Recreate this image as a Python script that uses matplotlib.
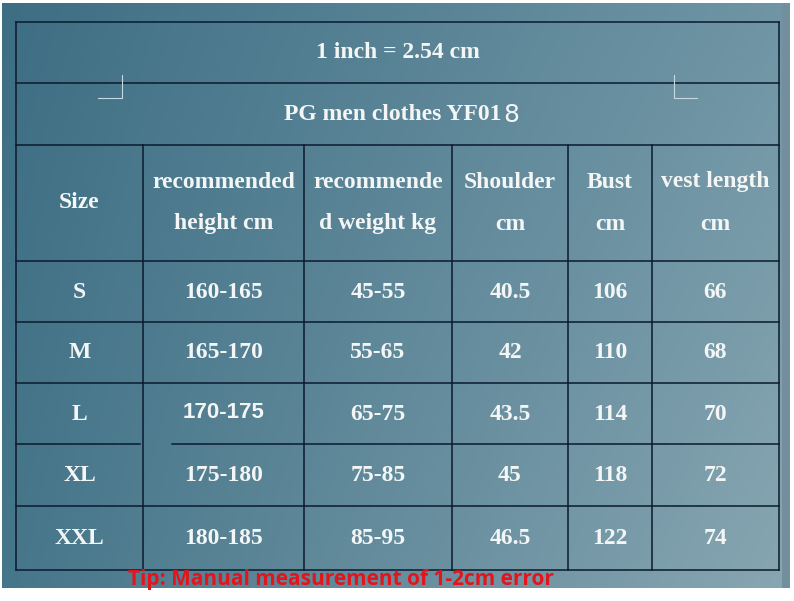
import numpy as np
import matplotlib
matplotlib.use("Agg")
import matplotlib.pyplot as plt

# table content
title1 = "1 inch = 2.54 cm"
title2 = "PG men clothes YF01"
title2_tail = "8"
headers = [["Size"], ["recommended", "height cm"], ["recommende", "d weight kg"],
           ["Shoulder", "cm"], ["Bust", "cm"], ["vest length", "cm"]]
sizes = ["S", "M", "L", "XL", "XXL"]
height_cm = ["160-165", "165-170", "170-175", "175-180", "180-185"]
weight_kg = ["45-55", "55-65", "65-75", "75-85", "85-95"]
shoulder = ["40.5", "42", "43.5", "45", "46.5"]
bust = ["106", "110", "114", "118", "122"]
vest_length = ["66", "68", "70", "72", "74"]
tip = "Tip: Manual measurement of 1-2cm error"

# layout (pixels)
col_edges = [16, 143, 304, 452, 568, 652, 779]
row_edges = [22, 83, 145, 261, 322, 383, 444, 506, 570]

W, H = 794, 601
fig = plt.figure(figsize=(W / 100, H / 100), dpi=100)
ax = fig.add_axes([0, 0, 1, 1])
ax.set_xlim(0, W)
ax.set_ylim(H, 0)
ax.axis("off")

# background gradient
nx, ny = 200, 150
gx = np.linspace(0, 1, nx)[None, :, None]
gy = np.linspace(0, 1, ny)[:, None, None]
tl = np.array([62, 110, 132]) / 255
tr = np.array([112, 150, 165]) / 255
bl = np.array([70, 118, 138]) / 255
br = np.array([136, 166, 178]) / 255
top = tl * (1 - gx) + tr * gx
bot = bl * (1 - gx) + br * gx
bg = top * (1 - gy) + bot * gy
ax.imshow(bg, extent=[2, 790, 588, 3], aspect="auto", zorder=0)
ax.add_patch(plt.Rectangle((782, 3), 8, 585, color=(0.45, 0.56, 0.62), zorder=1, lw=0))

# grid lines
lc = "#0b1a2e"
lw = 1.1
x0, x1 = col_edges[0], col_edges[-1]
for y in row_edges:
    if y == 444:
        ax.plot([x0, 140], [y, y], color=lc, lw=lw, zorder=3)
        ax.plot([172, x1], [y, y], color=lc, lw=lw, zorder=3)
    else:
        ax.plot([x0, x1], [y, y], color=lc, lw=lw, zorder=3)
for i, x in enumerate(col_edges):
    ystart = row_edges[0] if i in (0, len(col_edges) - 1) else row_edges[2]
    ax.plot([x, x], [ystart, row_edges[-1]], color=lc, lw=lw, zorder=3)

# small corner marks
mc = "#c8d8e0"
ax.plot([122, 122, 98], [75, 98, 98], color=mc, lw=0.8, zorder=3)
ax.plot([674, 674, 697], [75, 98, 98], color=mc, lw=0.8, zorder=3)

tc = "#f4f6f6"
serif = dict(family="Liberation Serif", weight="bold", color=tc, fontsize=17,
             ha="center", va="center", zorder=4)

ax.text((x0 + x1) / 2, 53, title1, **serif)
ax.text(502, 114, title2, **{**serif, "ha": "right"})
ax.text(503, 115, title2_tail, family="DejaVu Sans", color=tc, fontsize=18,
        ha="left", va="center", zorder=4)

centers = [(col_edges[i] + col_edges[i + 1]) / 2 for i in range(len(col_edges) - 1)]
for cx, lines in zip(centers, headers):
    if len(lines) == 1:
        ax.text(cx, 203, lines[0], **serif)
    else:
        ax.text(cx, 182, lines[0], **serif)
        ax.text(cx, 224, lines[1], **serif)

columns = [sizes, height_cm, weight_kg, shoulder, bust, vest_length]
row_centers = [(row_edges[i] + row_edges[i + 1]) / 2 + 0.5 for i in range(3, len(row_edges) - 1)]
for ci, (cx, vals) in enumerate(zip(centers, columns)):
    for ri, (cy, v) in enumerate(zip(row_centers, vals)):
        if ci == 1 and v == "170-175":
            ax.text(cx, cy - 1, v, family="Liberation Sans", weight="bold", color=tc,
                    fontsize=16, ha="center", va="center", zorder=4)
        else:
            ax.text(cx, cy, v, **serif)

ax.text(341, 580, tip, family="Open Sans", weight="bold", color="#e3141c",
        fontsize=15, ha="center", va="center", zorder=4)

fig.savefig("out.png", dpi=100)
